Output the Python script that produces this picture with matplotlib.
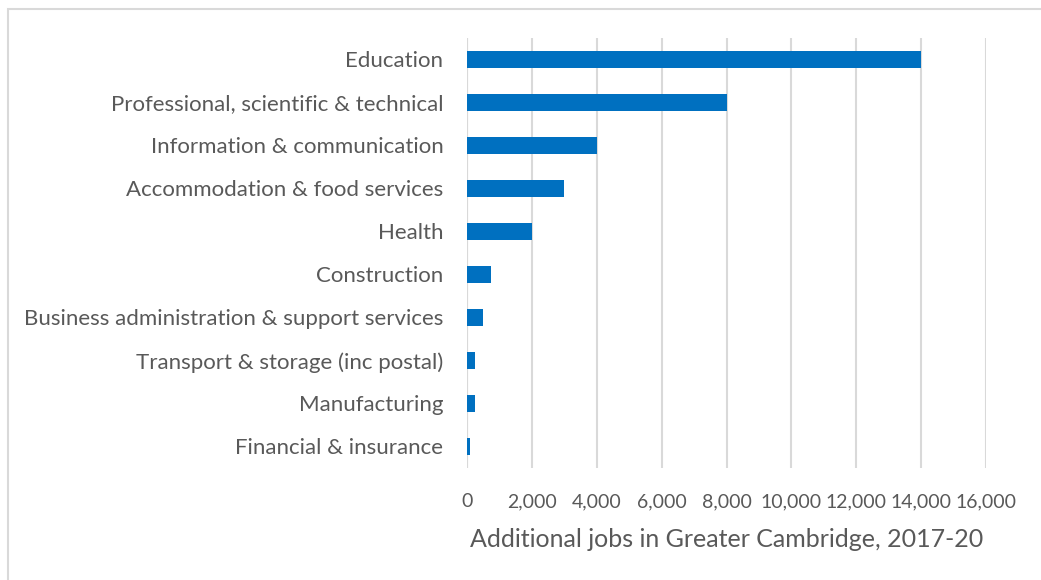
## Greater Cambridge additional jobs chart

import matplotlib.pyplot as plt
from matplotlib.patches import Rectangle
from matplotlib.ticker import FuncFormatter, MultipleLocator

#DATA

sectors = [
    'Education',
    'Professional, scientific & technical',
    'Information & communication',
    'Accommodation & food services',
    'Health',
    'Construction',
    'Business administration & support services',
    'Transport & storage (inc postal)',
    'Manufacturing',
    'Financial & insurance',
]
extra_jobs = [14000, 8000, 4000, 3000, 2000, 750, 500, 250, 250, 100]

x_label = 'Additional jobs in Greater Cambridge, 2017-20'

#STYLE

text_grey = '#595959'
bar_blue = '#0070C0'
grid_grey = '#D9D9D9'

plt.rcParams['font.family'] = ['Lato', 'DejaVu Sans']

#CHART

fig = plt.figure(figsize=(10.41, 5.8), dpi=100)
ax = fig.add_axes([467 / 1041, 1 - 468 / 580, (986 - 467) / 1041, (468 - 38) / 580])

ax.barh(sectors, extra_jobs, height=0.38, color=bar_blue, zorder=3)
ax.set_ylim(len(sectors) - 0.5, -0.5)
ax.set_xlim(0, 16000)
ax.xaxis.set_major_locator(MultipleLocator(2000))
ax.xaxis.set_major_formatter(FuncFormatter(lambda v, p: f'{v:,.0f}'))

ax.grid(axis='x', color=grid_grey, linewidth=1.5, zorder=0)
for side in ['top', 'right', 'bottom', 'left']:
    ax.spines[side].set_visible(False)
ax.axvline(0, color=grid_grey, linewidth=1.5, zorder=1)

ax.tick_params(axis='y', length=0, colors=text_grey, labelsize=16, pad=17)
ax.tick_params(axis='x', length=0, colors=text_grey, labelsize=14, pad=18)
ax.set_xlabel(x_label, color=text_grey, fontsize=18, labelpad=13)

# outer chart border like the spreadsheet frame (only top and left show)
fig.patches.append(Rectangle((8 / 1041, -0.1), 1.2, 1.1 - 9 / 580, transform=fig.transFigure,
                             fill=False, edgecolor='#D9D9D9', linewidth=1.5))

fig.savefig('out.png', dpi=100)
